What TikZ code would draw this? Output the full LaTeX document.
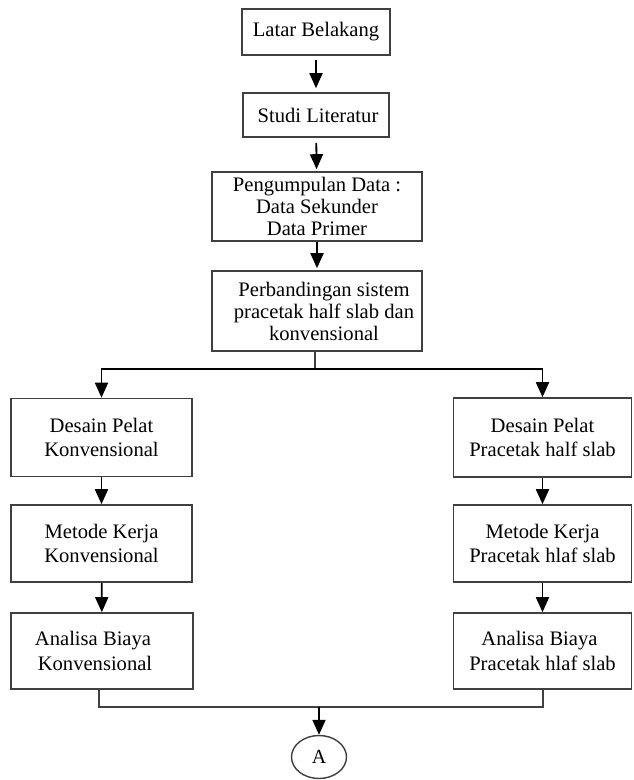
\documentclass[tikz,border=0pt]{standalone}
\usepackage{fontspec}
\setmainfont{Liberation Serif}
\usetikzlibrary{arrows.meta,shapes.geometric}
\begin{document}
\begin{tikzpicture}[x=1pt,y=-1pt,
  box/.style={draw=black!75,line width=1.6pt,rectangle,inner sep=0pt,align=center,
    font=\fontsize{20.6}{22}\selectfont},
  sidebox/.style={box,font=\fontsize{20.6}{24.5}\selectfont},
  arr/.style={black,line width=1.8pt,-{Triangle[width=13pt,length=15pt]}},
  conn/.style={black!75,line width=1.6pt}]
\useasboundingbox (0,0) rectangle (633,780);
\fill[white] (0,0) rectangle (633,780);

\node[box,minimum width=148pt,minimum height=46pt] (latar) at (316,32) {Latar Belakang};
\node[box,minimum width=146pt,minimum height=44pt] (studi) at (316,115) {\hspace*{4pt}Studi Literatur};
\node[box,minimum width=210pt,minimum height=69pt] (kumpul) at (317,206.5) {Pengumpulan Data :\\Data Sekunder\\Data Primer};
\node[box,minimum width=210pt,minimum height=80pt] (banding) at (317,311) {\hspace*{14pt}Perbandingan sistem\\\hspace*{14pt}pracetak half slab dan\\\hspace*{14pt}konvensional};

\node[sidebox,minimum width=181pt,minimum height=78pt] (dL) at (101.5,437.5) {Desain Pelat\\Konvensional};
\node[sidebox,minimum width=181pt,minimum height=77pt] (mL) at (101.5,543.5) {Metode Kerja\\Konvensional};
\node[sidebox,minimum width=182pt,minimum height=76pt] (aL) at (102,651) {Analisa Biaya\hspace*{18pt}\\Konvensional\hspace*{14pt}};

\node[sidebox,minimum width=178pt,minimum height=79pt] (dR) at (542.5,437.5) {Desain Pelat\\Pracetak half slab};
\node[sidebox,minimum width=178pt,minimum height=77pt] (mR) at (542.5,543.5) {Metode Kerja\\Pracetak hlaf slab};
\node[sidebox,minimum width=178pt,minimum height=76pt] (aR) at (542.5,651) {Analisa Biaya\hspace*{6pt}\\Pracetak hlaf slab};

\node[draw=black!75,line width=1.4pt,ellipse,minimum width=55pt,minimum height=43pt,inner sep=0pt,
  font=\fontsize{20}{22}\selectfont] (A) at (319,757) {A};

\draw[arr,shorten <=4pt,shorten >=4pt] (latar) -- (studi);
\draw[arr,shorten <=5pt,shorten >=2pt] (studi) -- (kumpul);
\draw[arr,shorten >=2pt] (kumpul) -- (banding);

\coordinate (split) at (315,369);
\draw[conn] (banding.south -| split) -- (split);
\draw[arr] (split) -| (dL.north);
\draw[arr] (split) -| (dR.north);

\draw[arr] (dL) -- (mL);
\draw[arr] (mL) -- (aL);
\draw[arr] (dR) -- (mR);
\draw[arr] (mR) -- (aR);

\coordinate (join) at (319,707);
\draw[conn] (aL.south -| 99,0) -- (99,707) -- (543,707) -- (aR.south -| 543,0);
\draw[arr] (join) -- (A.north);
\end{tikzpicture}
\end{document}
